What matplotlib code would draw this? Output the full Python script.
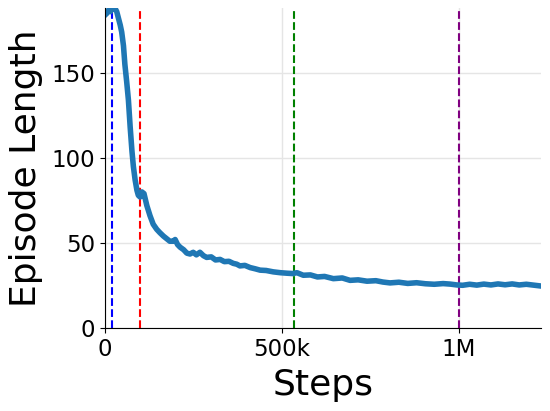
import matplotlib
matplotlib.use('Agg')
import matplotlib.pyplot as plt
from matplotlib.ticker import FuncFormatter

# episode length curve
steps = [0, 5e3, 10e3, 15e3, 20e3, 28e3, 33e3, 38e3, 43e3, 47e3, 52e3, 56e3, 61e3, 66e3,
         71e3, 76e3, 80e3, 85e3, 90e3, 94e3, 99e3, 104e3, 110e3, 118e3, 127e3, 136e3,
         146e3, 155e3, 165e3, 174e3, 183e3, 192e3, 198e3, 205e3, 212e3, 222e3, 231e3,
         240e3, 249e3, 258e3, 268e3, 278e3, 287e3, 300e3, 312e3, 325e3, 337e3, 350e3,
         362e3, 372e3, 381e3, 395e3, 410e3, 424e3, 438e3, 455e3, 475e3, 495e3, 514e3,
         530e3, 542e3, 560e3, 580e3, 600e3, 620e3, 645e3, 670e3, 692e3, 715e3, 740e3,
         765e3, 785e3, 805e3, 830e3, 855e3, 880e3, 905e3, 930e3, 955e3, 975e3, 994e3,
         1010e3, 1030e3, 1050e3, 1070e3, 1090e3, 1110e3, 1130e3, 1150e3, 1170e3,
         1190e3, 1210e3, 1230e3]
ep_len = [184, 185, 187, 186, 188, 188, 186, 182, 178, 174, 166, 155, 145, 134,
          118, 104, 95, 87, 81, 78, 77, 80, 79, 72, 66, 61, 58, 56, 54, 52.5, 51,
          51, 52, 49, 47.5, 46, 44, 43.5, 44.5, 43, 44.5, 42.5, 41.5, 41.8, 40, 40.3,
          39, 39.2, 38, 37.5, 36.5, 36.8, 35.5, 34.8, 34, 33.8, 33, 32.5, 32.2, 32, 32.5,
          31, 31.2, 30, 30.3, 29, 29.4, 28, 28.3, 27.5, 27.8, 27, 26.5, 26.9, 26.2,
          26.6, 26, 25.7, 26.1, 25.8, 25.3, 25.1, 25.7, 25.2, 25.8, 25.3, 25.9, 25.4,
          25.9, 25.3, 25.7, 25.2, 24.7]

# vertical marker lines
marker_steps = [20e3, 100e3, 535e3, 1000e3]
marker_colors = ['blue', 'red', 'green', 'purple']

fig = plt.figure(figsize=(5.5, 4.11), dpi=100)
ax = fig.add_axes([0.191, 0.202, 0.793, 0.778])

ax.grid(True, color='#e5e5e5', linewidth=1)
ax.set_axisbelow(True)
for s, c in zip(marker_steps, marker_colors):
    ax.axvline(s, color=c, linestyle='--', linewidth=1.5)
ax.plot(steps, ep_len, color='#1f77b4', linewidth=4)

ax.set_xlim(0, 1.232e6)
ax.set_ylim(0, 188)
ax.set_xticks([0, 500e3, 1e6])
ax.set_yticks([0, 50, 100, 150])

def fmt(v, pos):
    if v == 0:
        return '0'
    if v >= 1e6:
        return '%gM' % (v / 1e6)
    return '%gk' % (v / 1e3)

ax.xaxis.set_major_formatter(FuncFormatter(fmt))
ax.tick_params(labelsize=16.5)
ax.spines['top'].set_visible(False)
ax.spines['right'].set_visible(False)
ax.set_xlabel('Steps', fontsize=26, labelpad=5)
ax.set_ylabel('Episode Length', fontsize=26, labelpad=6)

plt.savefig('out.png', dpi=100)
